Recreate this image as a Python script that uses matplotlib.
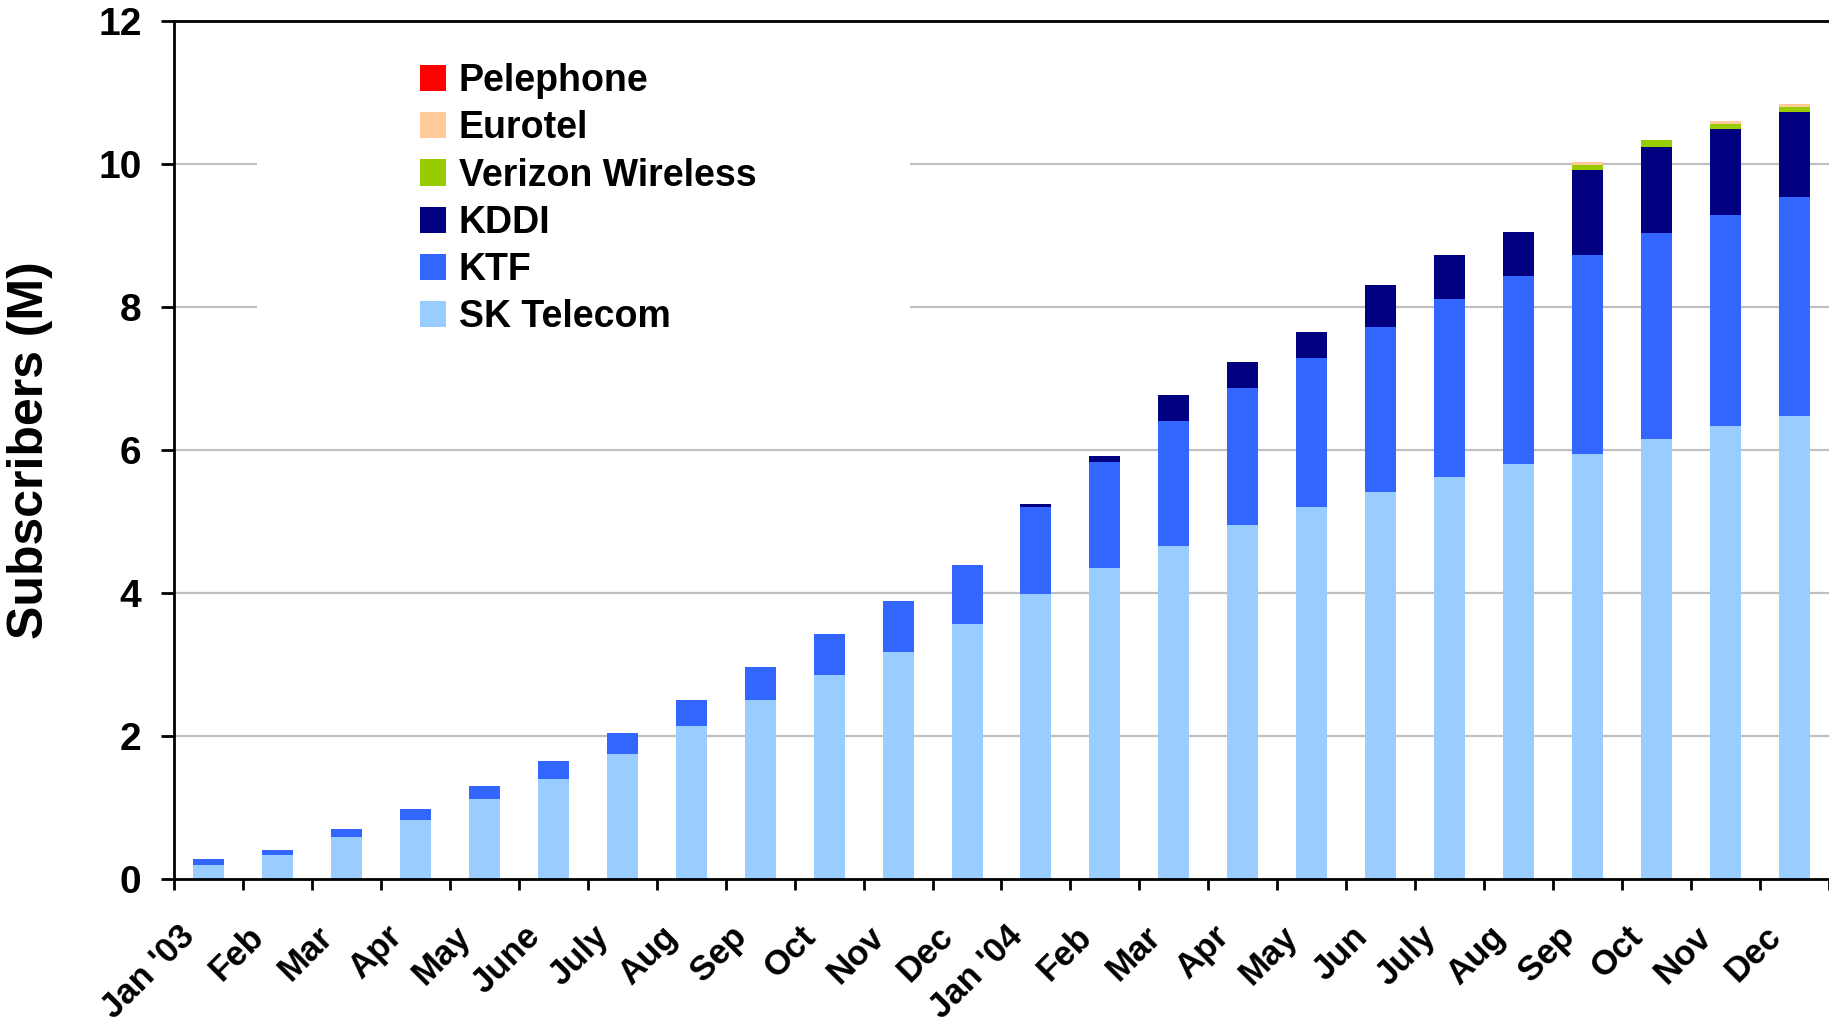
import matplotlib
matplotlib.use("Agg")
import matplotlib.pyplot as plt
import matplotlib.transforms as mtransforms
from matplotlib.patches import Rectangle
import numpy as np

plt.rcParams['font.family'] = ['Liberation Sans', 'DejaVu Sans']
plt.rcParams['font.weight'] = 'bold'

months = ["Jan '03", "Feb", "Mar", "Apr", "May", "June", "July", "Aug", "Sep", "Oct", "Nov", "Dec",
          "Jan '04", "Feb", "Mar", "Apr", "May", "Jun", "July", "Aug", "Sep", "Oct", "Nov", "Dec"]

# subscribers in millions
sk_telecom = [0.20, 0.34, 0.59, 0.83, 1.12, 1.40, 1.75, 2.14, 2.50, 2.86, 3.18, 3.57,
              3.99, 4.35, 4.66, 4.95, 5.20, 5.41, 5.62, 5.80, 5.94, 6.15, 6.34, 6.48]
ktf = [0.08, 0.07, 0.11, 0.155, 0.18, 0.25, 0.29, 0.36, 0.47, 0.57, 0.71, 0.82,
       1.21, 1.48, 1.75, 1.92, 2.09, 2.31, 2.49, 2.63, 2.78, 2.88, 2.94, 3.05]
kddi = [0, 0, 0, 0, 0, 0, 0, 0, 0, 0, 0, 0,
        0.045, 0.09, 0.36, 0.36, 0.36, 0.59, 0.62, 0.61, 1.20, 1.21, 1.20, 1.20]
verizon = [0] * 20 + [0.07, 0.09, 0.08, 0.07]
eurotel = [0] * 20 + [0.04, 0.0, 0.04, 0.04]
pelephone = [0] * 24

series = [("SK Telecom", sk_telecom, "#99CCFF"),
          ("KTF", ktf, "#3366FF"),
          ("KDDI", kddi, "#000080"),
          ("Verizon Wireless", verizon, "#99CC00"),
          ("Eurotel", eurotel, "#FFCC99"),
          ("Pelephone", pelephone, "#FF0000")]

fig = plt.figure(figsize=(18.29, 10.18), dpi=100)
ax = fig.add_axes([174 / 1829, 1 - 879.3 / 1018, 1 - 174 / 1829, (879.3 - 20.7) / 1018])

x = np.arange(len(months))
bottom = np.zeros(len(months))
for name, vals, col in series:
    vals = np.array(vals)
    ax.bar(x, vals, width=0.45, bottom=bottom, color=col, label=name, zorder=2)
    bottom += vals

ax.set_xlim(-0.5, 23.31)
ax.set_ylim(0, 12)
ax.set_yticks(np.arange(0, 13, 2))
ax.tick_params(axis='y', labelsize=28, length=9.4, width=2, pad=14, direction='out')

# grid lines in grey, except the top (spine) and zero
for v in range(2, 12, 2):
    ax.axhline(v, color="#c0c0c0", lw=1.6, zorder=0.5)
# white legend area hides the grid behind it
ax.add_patch(Rectangle((0.050, 0.628), 0.395, 0.35, transform=ax.transAxes,
                       facecolor="white", edgecolor="none", zorder=1))

ax.set_xticks(x)
ax.set_xticklabels(months, rotation=45, ha='right', va='top', fontsize=25)
ax.set_xticks(np.arange(-0.5, 24, 1), minor=True)
ax.tick_params(axis='x', which='major', length=0, pad=29)
ax.tick_params(axis='x', which='minor', length=8, width=2, direction='out')
offset = mtransforms.ScaledTranslation(-0.07, 0, fig.dpi_scale_trans)
for lab in ax.get_xticklabels():
    lab.set_transform(lab.get_transform() + offset)

for s in ['left', 'bottom', 'top']:
    ax.spines[s].set_linewidth(2)
    ax.spines[s].set_color('black')
ax.spines['right'].set_visible(False)

ax.set_ylabel("Subscribers (M)", fontsize=36, fontweight='bold')
ax.yaxis.set_label_coords(-0.0870, 0.5)
ax.yaxis.label.set_verticalalignment('center')

handles, labels = ax.get_legend_handles_labels()
leg = ax.legend(handles[::-1], labels[::-1], loc='upper left',
                bbox_to_anchor=(420 / 1829, 1 - 63 / 1018), bbox_transform=fig.transFigure,
                frameon=False, fontsize=27, handlelength=0.7, handleheight=0.7,
                handletextpad=0.33, labelspacing=0.3, borderpad=0, borderaxespad=0)
leg.set_zorder(3)

fig.savefig("out.png", dpi=100)
